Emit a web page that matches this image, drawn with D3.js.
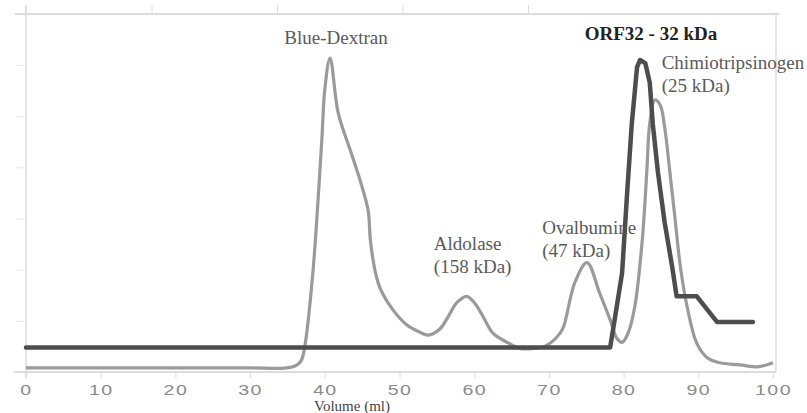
<!DOCTYPE html>
<html>
<head>
<meta charset="utf-8">
<script src="https://cdn.jsdelivr.net/npm/d3@7"></script>
<style>
  html, body { margin: 0; padding: 0; background: #fff; }
  svg { display: block; }
</style>
</head>
<body>
<svg id="chart" width="807" height="413"></svg>
<script>
// Elution volume (ml) and absorbance of the calibration standards
const standardsVolume = [0, 10, 20, 30, 34.9, 36.3, 36.9, 37.3, 38.4, 39.6, 40.0, 40.7, 41.8, 43.4, 44.7, 45.8, 46.1, 46.7, 47.4, 49.1, 51.0, 52.7, 53.8, 55.4, 56.5, 57.7, 59.0, 60.1, 61.2, 62.5, 64.4, 66.1, 67.9, 69.7, 71.5, 72.0, 73.5, 75.1, 76.8, 78.2, 79.1, 79.8, 80.6, 81.5, 82.5, 83.1, 83.5, 84.2, 84.9, 85.5, 86.2, 86.9, 87.6, 88.5, 89.8, 91.2, 92.9, 95.6, 97.9, 100];
const standardsAbs = [0.04, 0.04, 0.04, 0.04, 0.04, 0.07, 0.12, 0.24, 0.97, 2.27, 2.76, 3.07, 2.53, 2.17, 1.88, 1.58, 1.29, 1.00, 0.82, 0.61, 0.46, 0.39, 0.36, 0.42, 0.54, 0.68, 0.74, 0.67, 0.54, 0.38, 0.29, 0.23, 0.23, 0.26, 0.38, 0.45, 0.88, 1.07, 0.77, 0.51, 0.33, 0.29, 0.38, 0.64, 1.29, 1.95, 2.43, 2.66, 2.61, 2.39, 1.95, 1.49, 1.03, 0.64, 0.28, 0.14, 0.09, 0.07, 0.05, 0.09];

// Elution profile of ORF32
const orfVolume = [0, 78.2, 78.8, 79.8, 80.5, 81.1, 81.8, 82.2, 82.9, 83.5, 83.9, 84.6, 85.5, 86.5, 87.1, 89.8, 92.5, 97.3];
const orfAbs = [0.24, 0.24, 0.51, 0.97, 1.78, 2.43, 2.98, 3.05, 3.02, 2.83, 2.43, 1.95, 1.46, 1.03, 0.74, 0.74, 0.49, 0.49];

const xTicks = [0, 10, 20, 30, 40, 50, 60, 70, 80, 90, 100];
const yTicks = [0.5, 1, 1.5, 2, 2.5, 3];

// Peak annotations, anchored in data units
const peakLabels = [
  { lines: ["Blue-Dextran"], x: 41.5, y: 3.21, anchor: "middle" },
  { lines: ["Aldolase", "(158 kDa)"], x: 54.6, y: 1.19, anchor: "start" },
  { lines: ["Ovalbumine", "(47 kDa)"], x: 69.1, y: 1.35, anchor: "start" },
  { lines: ["Chimiotripsinogen", "(25 kDa)"], x: 85.1, y: 2.96, anchor: "start" }
];
const proteinLabel = { text: "ORF32 - 32 kDa", x: 74.8, y: 3.25 };

const svg = d3.select("#chart");
const mLeft = 26, mRight = 773, mTop = 14, mBottom = 372;

const x = d3.scaleLinear().domain([0, 100]).range([mLeft, mRight]);
const y = d3.scaleLinear().domain([0, 3.5]).range([mBottom, mTop]);

const frame = "#dcdcdc";
const serif = "'Liberation Serif', 'Times New Roman', serif";

// plot frame
svg.append("line").attr("x1", 15).attr("x2", 779).attr("y1", mTop).attr("y2", mTop)
  .attr("stroke", frame).attr("stroke-width", 2);
svg.append("line").attr("x1", 776).attr("x2", 776).attr("y1", mTop).attr("y2", mBottom)
  .attr("stroke", frame).attr("stroke-width", 1.5);

// top secondary ticks
const xTop = d3.scaleLinear().domain([0, 6]).range([mLeft, 779]);
svg.append("g").attr("transform", `translate(0,${mTop})`)
  .call(d3.axisTop(xTop).tickValues([0, 1, 2, 3, 4]).tickSize(9).tickFormat(""))
  .call(g => g.select(".domain").remove())
  .call(g => g.selectAll("line").attr("stroke", frame));

// left axis
svg.append("line").attr("x1", mLeft).attr("x2", mLeft).attr("y1", 5).attr("y2", 378)
  .attr("stroke", frame).attr("stroke-width", 1.5);
svg.append("g").attr("transform", `translate(${mLeft},0)`)
  .call(d3.axisLeft(y).tickValues(yTicks).tickSize(10).tickFormat(""))
  .call(g => g.select(".domain").remove())
  .call(g => g.selectAll("line").attr("stroke", "#e6e6e6"));

// bottom axis
svg.append("line").attr("x1", 14).attr("x2", 776).attr("y1", mBottom).attr("y2", mBottom)
  .attr("stroke", frame).attr("stroke-width", 2);
const xAxis = svg.append("g").attr("transform", `translate(0,${mBottom})`)
  .call(d3.axisBottom(x).tickValues(xTicks).tickSize(6).tickFormat(d3.format("d")));
xAxis.select(".domain").remove();
xAxis.selectAll("line").attr("stroke", frame);
xAxis.selectAll("text")
  .attr("fill", "#8a8a8a")
  .attr("font-family", "'Liberation Sans', Arial, sans-serif")
  .attr("font-size", 14)
  .attr("letter-spacing", 1)
  .attr("y", 0).attr("dy", 0)
  .attr("transform", "translate(0,23) scale(1.4,1)");

// axis title
svg.append("text").attr("x", 352).attr("y", 411).attr("text-anchor", "middle")
  .attr("font-family", serif).attr("font-size", 15).attr("fill", "#444").text("Volume (ml)");

// peak labels
peakLabels.forEach(p => {
  const t = svg.append("text")
    .attr("x", x(p.x)).attr("y", y(p.y))
    .attr("text-anchor", p.anchor)
    .attr("font-family", serif).attr("font-size", 19).attr("fill", "#5a5a5a");
  p.lines.forEach((line, i) => {
    t.append("tspan").attr("x", x(p.x)).attr("dy", i === 0 ? 0 : 23).text(line);
  });
});
svg.append("text").attr("x", x(proteinLabel.x)).attr("y", y(proteinLabel.y))
  .attr("font-family", serif).attr("font-size", 19).attr("font-weight", "bold")
  .attr("fill", "#222").text(proteinLabel.text);

// elution curves
const standards = standardsVolume.map((v, i) => [v, standardsAbs[i]]);
const orf = orfVolume.map((v, i) => [v, orfAbs[i]]);

svg.append("path").datum(standards)
  .attr("d", d3.line().x(d => x(d[0])).y(d => y(d[1])).curve(d3.curveCatmullRom.alpha(0.5)))
  .attr("fill", "none").attr("stroke", "#9a9a9a").attr("stroke-width", 3.2)
  .attr("stroke-linejoin", "round");

svg.append("path").datum(orf)
  .attr("d", d3.line().x(d => x(d[0])).y(d => y(d[1])))
  .attr("fill", "none").attr("stroke", "#4d4d4d").attr("stroke-width", 4.5)
  .attr("stroke-linejoin", "round").attr("stroke-linecap", "round");
</script>
</body>
</html>
